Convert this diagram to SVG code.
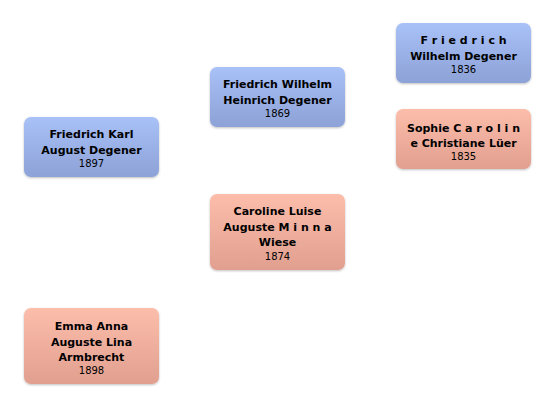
<svg xmlns="http://www.w3.org/2000/svg" width="556" height="409" viewBox="0 0 556 409">
<style>
.n{font-family:"DejaVu Sans","Liberation Sans",sans-serif;font-size:11px;font-weight:bold;fill:#000;text-anchor:middle}
.y{font-family:"DejaVu Sans","Liberation Sans",sans-serif;font-size:10px;fill:#000;text-anchor:middle}
.m{fill:url(#gm);filter:url(#sh)}
.f{fill:url(#gf);filter:url(#sh)}
</style>
<defs>
<linearGradient id="gm" x1="0" y1="0" x2="0" y2="1"><stop offset="0" stop-color="#a8c1f7"/><stop offset="1" stop-color="#8da2d7"/></linearGradient>
<linearGradient id="gf" x1="0" y1="0" x2="0" y2="1"><stop offset="0" stop-color="#fdbdab"/><stop offset="1" stop-color="#e1a08f"/></linearGradient>
<filter id="sh" x="-10%" y="-10%" width="120%" height="130%"><feDropShadow dx="0" dy="1" stdDeviation="1" flood-color="#000" flood-opacity="0.25"/></filter>
</defs>
<g id="connectors"/>
<g id="n1"><rect class="m" x="24" y="117" width="135" height="60" rx="7"/><text class="n" x="91.5" y="138">Friedrich Karl</text><text class="n" x="91.5" y="154">August Degener</text><text class="y" x="91.5" y="167">1897</text></g>
<g id="n2"><rect class="m" x="210" y="67" width="135" height="60" rx="7"/><text class="n" x="277.5" y="88">Friedrich Wilhelm</text><text class="n" x="277.5" y="104">Heinrich Degener</text><text class="y" x="277.5" y="117">1869</text></g>
<g id="n3"><rect class="m" x="396" y="23" width="135" height="60" rx="7"/><text class="n" x="463.5" y="44" xml:space="preserve">F r i e d r i c h</text><text class="n" x="463.5" y="60">Wilhelm Degener</text><text class="y" x="463.5" y="73">1836</text></g>
<g id="n4"><rect class="f" x="396" y="109" width="135" height="60" rx="7"/><text class="n" x="463.5" y="132" xml:space="preserve">Sophie C a r o l i n</text><text class="n" x="463.5" y="147">e Christiane Lüer</text><text class="y" x="463.5" y="160">1835</text></g>
<g id="n5"><rect class="f" x="210" y="194" width="135" height="76" rx="7"/><text class="n" x="277.5" y="215">Caroline Luise</text><text class="n" x="277.5" y="231" xml:space="preserve">Auguste M i n n a</text><text class="n" x="277.5" y="246">Wiese</text><text class="y" x="277.5" y="260">1874</text></g>
<g id="n6"><rect class="f" x="24" y="308" width="135" height="76" rx="7"/><text class="n" x="91.5" y="330">Emma Anna</text><text class="n" x="91.5" y="346">Auguste Lina</text><text class="n" x="91.5" y="361">Armbrecht</text><text class="y" x="91.5" y="374">1898</text></g>
</svg>
